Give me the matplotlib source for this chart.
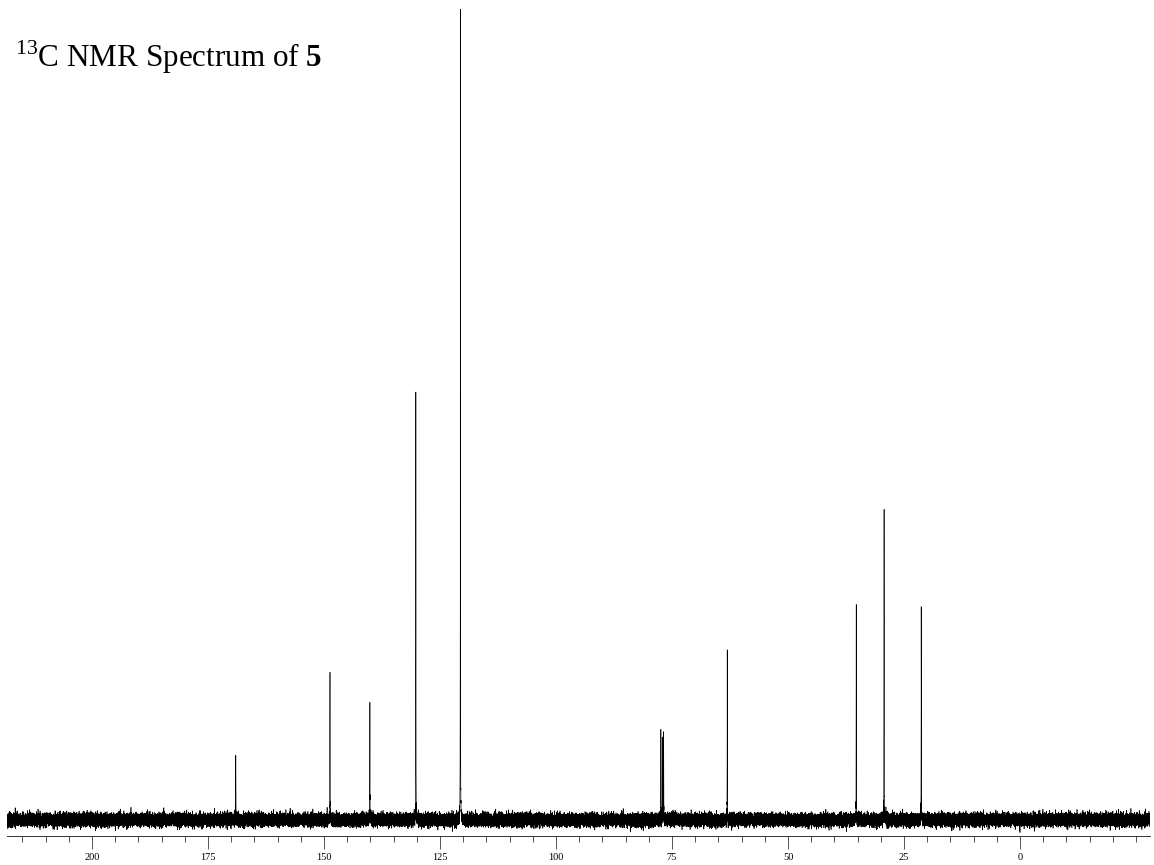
import numpy as np
import matplotlib
matplotlib.use("Agg")
import matplotlib.pyplot as plt
from matplotlib.ticker import MultipleLocator

# ---- data ----
peak_ppm = [169.0, 148.7, 140.1, 130.2, 120.6, 77.4, 77.1, 76.8, 63.1, 35.3, 29.3, 21.3]
peak_height = [7.9, 18.1, 14.2, 52.5, 100.0, 10.9, 10.3, 11.0, 21.0, 26.5, 38.1, 25.8]
tick_major = [200, 175, 150, 125, 100, 75, 50, 25, 0]
tick_labels = ["200", "175", "150", "125", "100", "75", "50", "25", "0"]
ppm_left, ppm_right = 218.3, -28.0
title_main = "C NMR Spectrum of "
title_sup = "13"
title_bold = "5"

# ---- spectrum trace ----
ppm = np.linspace(ppm_left, ppm_right, 65536)
ppm = np.sort(np.concatenate([ppm, np.array(peak_ppm)]))[::-1]
hwhm = 0.018
spec = np.zeros_like(ppm)
for c, h in zip(peak_ppm, peak_height):
    spec += h / (1.0 + ((ppm - c) / hwhm) ** 2)
# baseline noise texture (fixed seed)
rng = np.random.default_rng(13)
spec += rng.normal(0, 0.37, ppm.size)

W, H = 1154, 865
fig = plt.figure(figsize=(W / 100, H / 100), dpi=100)
ax = fig.add_axes([7 / W, (H - 836) / H, (1150 - 7) / W, 836 / H])
ax.plot(ppm, spec, color="black", lw=0.45)
ax.set_xlim(ppm_left, ppm_right)
ax.set_ylim(-2.0, 101.2)

for s in ["top", "left", "right"]:
    ax.spines[s].set_visible(False)
ax.spines["bottom"].set_linewidth(0.7)
ax.spines["bottom"].set_color("#333333")
ax.set_yticks([])
ax.set_xticks(tick_major)
ax.set_xticklabels(tick_labels, fontfamily="Liberation Serif", fontsize=7.5)
ax.xaxis.set_minor_locator(MultipleLocator(5))
ax.tick_params(axis="x", which="major", length=9.4, width=0.7, color="#555555", pad=3)
ax.tick_params(axis="x", which="minor", length=4.3, width=0.7, color="#555555")

# title
plt.rcParams["mathtext.fontset"] = "custom"
plt.rcParams["mathtext.rm"] = "Liberation Serif"
plt.rcParams["mathtext.bf"] = "Liberation Serif:bold"
fig.text(15 / W, (H - 67) / H,
         r"$^{%s}$%s$\mathbf{%s}$" % (title_sup, title_main, title_bold),
         fontfamily="Liberation Serif", fontsize=22.4, va="baseline", ha="left")

fig.savefig("out.png", dpi=100)
